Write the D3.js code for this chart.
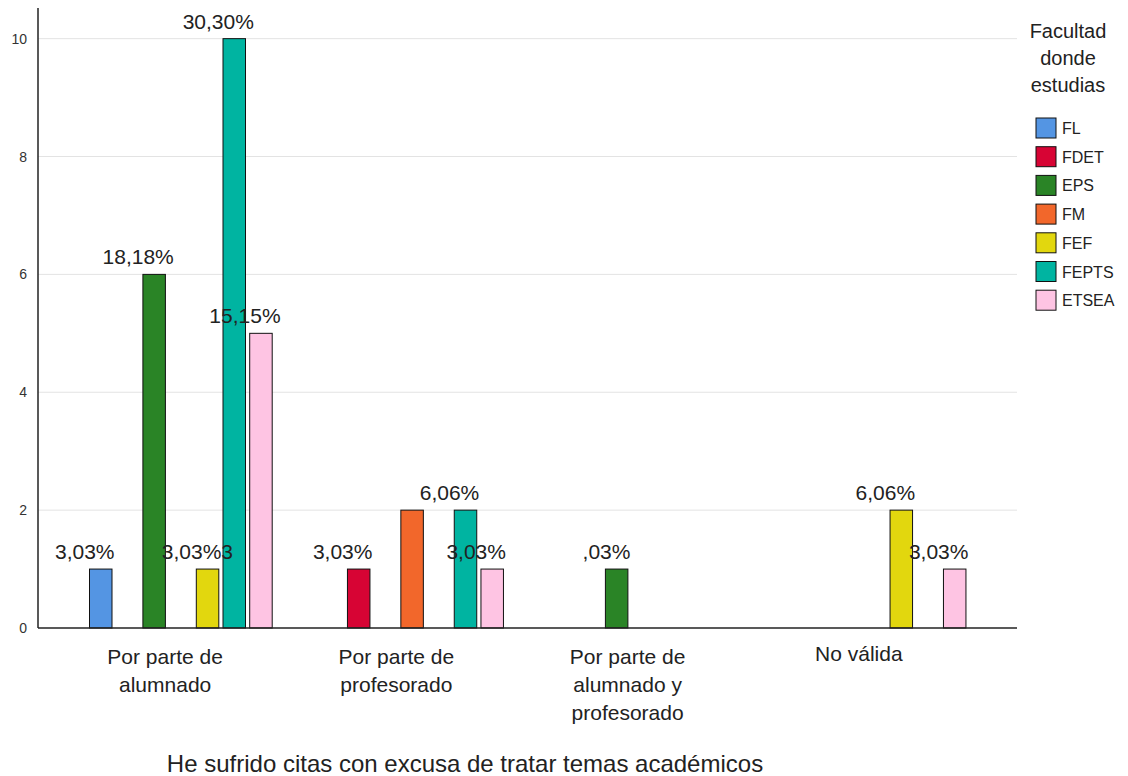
<!DOCTYPE html>
<html><head><meta charset="utf-8">
<script src="https://cdn.jsdelivr.net/npm/d3@7"></script>
<style>
html,body{margin:0;padding:0;background:#fff;}
text{font-family:"Liberation Sans",Arial,sans-serif;fill:#222;}
</style></head>
<body>
<svg id="chart" width="1128" height="776"></svg>
<script>
const categories = [["Por parte de","alumnado"],["Por parte de","profesorado"],["Por parte de","alumnado y","profesorado"],["No válida"]];
const categoryKeys = ["alumnado","profesorado","ambos","novalida"];
const seriesNames = ["FL","FDET","EPS","FM","FEF","FEPTS","ETSEA"];
const seriesColors = ["#5495e3","#d70434","#2a8426","#f2672b","#e2d70e","#00b4a1","#fec4e3"];
// values[category][series]
const values = [
  [1,0,6,0,1,10,5],
  [0,1,0,2,0,2,1],
  [0,0,1,0,0,0,0],
  [0,0,0,0,2,0,1]
];
// label text as displayed (null = no label)
const labelTexts = [
  ["3,03%",null,"18,18%",null,"3,03%3","30,30%","15,15%"],
  [null,"3,03%",null,null,null,"6,06%","3,03%"],
  [null,null,",03%",null,null,null,null],
  [null,null,null,null,"6,06%",null,"3,03%"]
];
const yTicks = [0,2,4,6,8,10];
const title = "He sufrido citas con excusa de tratar temas académicos";
const legendTitle = ["Facultad","donde","estudias"];

const svg = d3.select("#chart");
const plotL = 38, plotR = 1017, plotT = 8, plotB = 628;
const LABEL_FS = "21px";

const y = d3.scaleLinear().domain([0,10.52]).range([plotB, plotT]);
const x0 = d3.scaleBand().domain(categoryKeys).range([66, 991]).padding(0);
const x1 = d3.scaleBand().domain(seriesNames).range([23, 206.7]).paddingInner(0.12).paddingOuter(0);
const color = d3.scaleOrdinal().domain(seriesNames).range(seriesColors);

// grid
svg.append("g").selectAll("line").data(yTicks.filter(d=>d>0)).join("line")
  .attr("x1", plotL).attr("x2", plotR)
  .attr("y1", d=>y(d)).attr("y2", d=>y(d))
  .attr("stroke", "#e3e3e3").attr("stroke-width", 1);

// y axis
const yAxis = svg.append("g").attr("transform", `translate(${plotL},0)`)
  .call(d3.axisLeft(y).tickValues(yTicks).tickSize(0).tickPadding(11).tickFormat(d3.format("d")));
yAxis.select(".domain").remove();
yAxis.selectAll("text").style("font-size","14px").style("fill","#333");
svg.append("line").attr("x1", plotL).attr("x2", plotL).attr("y1", plotT).attr("y2", plotB)
  .attr("stroke", "#222").attr("stroke-width", 1.5);

// bars
const groups = svg.append("g").selectAll("g").data(categoryKeys).join("g")
  .attr("transform", d=>`translate(${x0(d)},0)`);
groups.each(function(cat, ci){
  const g = d3.select(this);
  const data = seriesNames.map((s,si)=>({s, v: values[ci][si]})).filter(d=>d.v>0);
  g.selectAll("rect").data(data).join("rect")
    .attr("x", d=>x1(d.s)+0.5)
    .attr("y", d=>y(d.v))
    .attr("width", x1.bandwidth()-1)
    .attr("height", d=>y(0)-y(d.v))
    .attr("fill", d=>color(d.s))
    .attr("stroke", "#111").attr("stroke-width", 1);
});

// x axis line
svg.append("line").attr("x1", plotL).attr("x2", plotR).attr("y1", plotB).attr("y2", plotB)
  .attr("stroke", "#222").attr("stroke-width", 1.5);

// value labels
const base = "3,03%";
const probe = svg.append("text").style("font-size",LABEL_FS).text(base);
const baseW = probe.node().getComputedTextLength(); probe.remove();
categoryKeys.forEach((cat, ci)=>{
  seriesNames.forEach((s, si)=>{
    const t = labelTexts[ci][si];
    if (!t) return;
    const cx = x0(cat) + x1(s) + x1.bandwidth()/2 - 16;
    const ty = y(values[ci][si]) - 10;
    const txt = svg.append("text").attr("y", ty).style("font-size",LABEL_FS).text(t);
    if (t.startsWith(",")) {
      txt.attr("text-anchor","end").attr("x", cx + baseW/2);
    } else if (t.length > 5 && t.startsWith(base)) {
      txt.attr("text-anchor","start").attr("x", cx - baseW/2);
    } else {
      txt.attr("text-anchor","middle").attr("x", cx);
    }
  });
});

// category labels
categoryKeys.forEach((cat, ci)=>{
  const cx = x0(cat) + x0.bandwidth()/2 - 16.5;
  const lines = categories[ci];
  const t = svg.append("text").attr("text-anchor","middle").style("font-size","21px");
  lines.forEach((ln, li)=>{
    t.append("tspan").attr("x", cx).attr("y", (ci===3 ? 661 : 664) + li*28).text(ln);
  });
});

// title
svg.append("text").attr("x", 465).attr("y", 772).attr("text-anchor","middle")
  .style("font-size","24px").text(title);

// legend
const lt = svg.append("text").attr("text-anchor","middle").style("font-size","20px");
legendTitle.forEach((ln, i)=>{
  lt.append("tspan").attr("x", 1068).attr("y", 38 + i*27).text(ln);
});
const leg = svg.append("g").selectAll("g").data(seriesNames).join("g")
  .attr("transform", (d,i)=>`translate(1036,${118 + i*28.7})`);
leg.append("rect").attr("width", 20).attr("height", 20)
  .attr("fill", d=>color(d)).attr("stroke", "#111").attr("stroke-width", 1);
leg.append("text").attr("x", 26).attr("y", 16).style("font-size","16px").text(d=>d);
</script>
</body></html>
